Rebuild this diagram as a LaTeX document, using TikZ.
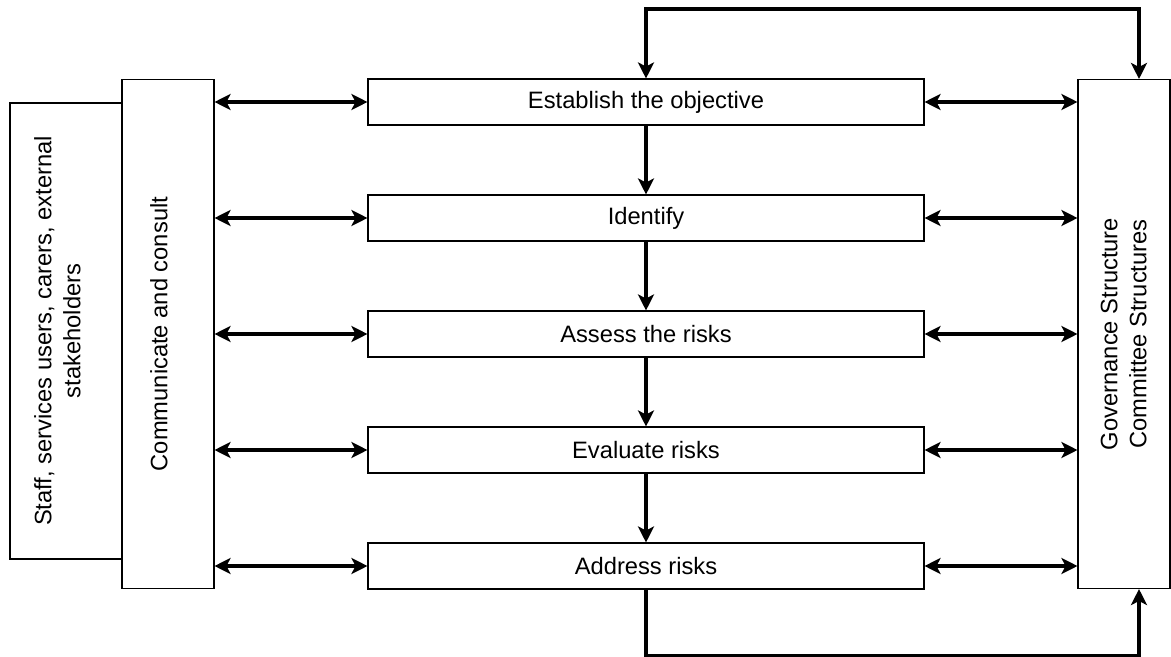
\documentclass[tikz,border=0pt]{standalone}
\usepackage{fontspec}
\setmainfont{Liberation Sans}
\usetikzlibrary{shapes.geometric, arrows.meta}
\tikzstyle{process} = [rectangle, minimum width=11.12cm, minimum height=0.92cm, text centered, draw=black, line width=0.6pt]
\tikzstyle{sidebox} = [rectangle, minimum width=1.84cm, minimum height=10.18cm, text centered, draw=black, line width=0.6pt]
\tikzstyle{groupbox} = [rectangle, minimum width=2.24cm, minimum height=9.12cm, text centered, draw=black, line width=0.6pt]
\tikzstyle{arrow} = [line width=0.08cm, ->, >={Stealth[length=0.32cm, width=0.32cm, inset=0.08cm]}]
\tikzstyle{twoway} = [arrow, <->]

\begin{document}
\begin{tikzpicture}[node distance=2.32cm, font=\fontsize{13.5}{16.5}\selectfont]
\useasboundingbox (-12.92,-11.1) rectangle (10.5,2.04);
\node (estab) [process] {Establish the objective};
\node (identify) [process, below of=estab] {Identify};
\node (assess) [process, below of=identify] {Assess the risks};
\node (evaluate) [process, below of=assess] {Evaluate risks};
\node (address) [process, below of=evaluate] {Address risks};
\node (comm) [sidebox, left of=assess, xshift=-7.24cm] {\hspace{-0.36cm}\rotatebox{90}{Communicate and consult}};
\node (gov) [sidebox, right of=assess, xshift=7.24cm] {\hspace{0.08cm}\rotatebox{90}{\begin{tabular}{@{}c@{}}Governance Structure\\Committee Structures\end{tabular}}};
\node (staff) [groupbox, left of=comm, xshift=0.28cm, yshift=0.06cm] {\hspace{-0.24cm}\rotatebox{90}{\begin{tabular}{@{}c@{}}Staff, services users, carers, external\\stakeholders\end{tabular}}};

\draw [arrow] (estab) -- (identify);
\draw [arrow] (identify) -- (assess);
\draw [arrow] (assess) -- (evaluate);
\draw [arrow] (evaluate) -- (address);

\draw [twoway] (estab -| comm.east) -- (estab);
\draw [twoway] (identify -| comm.east) -- (identify);
\draw [twoway] (assess -| comm.east) -- (assess);
\draw [twoway] (evaluate -| comm.east) -- (evaluate);
\draw [twoway] (address -| comm.east) -- (address);

\draw [twoway] (estab) -- (estab -| gov.west);
\draw [twoway] (identify) -- (identify -| gov.west);
\draw [twoway] (assess) -- (assess -| gov.west);
\draw [twoway] (evaluate) -- (evaluate -| gov.west);
\draw [twoway] (address) -- (address -| gov.west);

\draw [twoway] (estab.north) -- ++(0,1.38) -| ([xshift=0.3cm]gov.north);
\draw [arrow] (address.south) -- ++(0,-1.32) -| ([xshift=0.3cm]gov.south);
\end{tikzpicture}
\end{document}
